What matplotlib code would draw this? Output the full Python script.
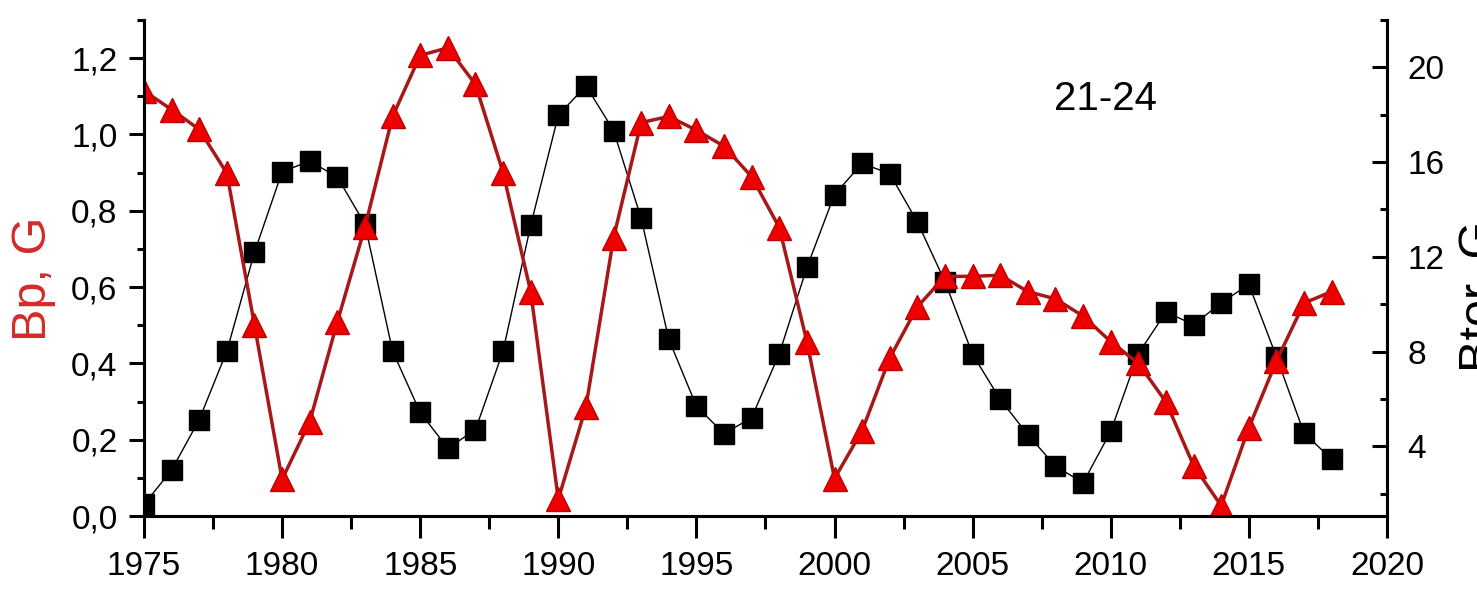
import numpy as np
import matplotlib
matplotlib.use("Agg")
import matplotlib.pyplot as plt
from matplotlib.ticker import MultipleLocator, FuncFormatter

plt.rcParams['font.family'] = ['Liberation Sans', 'DejaVu Sans']

# yearly values, cycles 21-24
years = list(range(1975, 2019))

bp = [1.114, 1.065, 1.013, 0.898, 0.500, 0.096, 0.247, 0.509, 0.757, 1.047,
      1.207, 1.227, 1.131, 0.900, 0.588, 0.044, 0.286, 0.729, 1.031, 1.047,
      1.011, 0.969, 0.889, 0.756, 0.457, 0.098, 0.224, 0.414, 0.548, 0.628,
      0.628, 0.631, 0.588, 0.569, 0.524, 0.457, 0.400, 0.299, 0.132, 0.027,
      0.231, 0.406, 0.558, 0.588]

btor = [1.55, 3.00, 5.13, 8.02, 12.19, 15.59, 16.04, 15.37, 13.37, 8.02,
        5.43, 3.92, 4.70, 8.02, 13.33, 17.97, 19.22, 17.33, 13.62, 8.52,
        5.70, 4.53, 5.21, 7.91, 11.55, 14.63, 15.94, 15.51, 13.47, 10.95,
        7.88, 5.98, 4.49, 3.17, 2.46, 4.63, 7.91, 9.67, 9.14, 10.05,
        10.84, 7.78, 4.56, 3.46]

fig = plt.figure(figsize=(14.77, 6.05), dpi=100)
ax1 = fig.add_axes([0.0975, 0.1471, 0.8415, 0.8200])
ax2 = ax1.twinx()

# Btor on the right axis, thin black line with squares
ax2.plot(years, btor, color="black", lw=1.0, marker="s", markersize=14.5,
         markerfacecolor="black", markeredgecolor="black")

# Bp on the left axis, drawn above the black series
ax1.plot(years, bp, color="#A81818", lw=2.5, marker="^", markersize=17.5,
         markerfacecolor="#EE0000", markeredgecolor="#C00000", markeredgewidth=1.0)
ax1.set_zorder(ax2.get_zorder() + 1)
ax1.patch.set_visible(False)

ax1.set_xlim(1975, 2020)
ax1.set_ylim(0, 1.3)
ax2.set_ylim(1.06, 22)

ax1.xaxis.set_major_locator(MultipleLocator(5))
ax1.xaxis.set_minor_locator(MultipleLocator(2.5))
ax1.yaxis.set_major_locator(MultipleLocator(0.2))
ax1.yaxis.set_minor_locator(MultipleLocator(0.1))
ax1.yaxis.set_major_formatter(FuncFormatter(lambda v, p: f"{v:.1f}".replace(".", ",")))
ax2.yaxis.set_major_locator(MultipleLocator(4))
ax2.yaxis.set_minor_locator(MultipleLocator(2))

for ax in (ax1, ax2):
    ax.spines["top"].set_visible(False)
    for s in ("left", "right", "bottom"):
        ax.spines[s].set_linewidth(2.2)

ax1.tick_params(axis="x", which="major", direction="out", length=16, width=2.2,
                labelsize=24, pad=9)
ax1.tick_params(axis="x", which="minor", direction="out", length=9, width=2.2)
ax1.tick_params(axis="y", which="major", direction="out", length=11, width=2.2,
                labelsize=24, pad=8)
ax1.tick_params(axis="y", which="minor", direction="out", length=5, width=2.2)
ax2.tick_params(axis="y", which="major", direction="in", length=11, width=2.2,
                labelsize=24, pad=15)
ax2.tick_params(axis="y", which="minor", direction="in", length=5, width=2.2)

# axis titles and cycle label
fig.text(34 / 1477, 1 - 279 / 605, "Bp, G", color="#D42A2A", fontsize=35,
         rotation=90, ha="center", va="center")
fig.text(1458 / 1477, 1 - 296 / 605, "Btor, G", color="black", fontsize=35,
         rotation=90, ha="left", va="center")
fig.text(1105 / 1477, 1 - 99 / 605, "21-24", color="black", fontsize=29,
         ha="center", va="center")

plt.savefig("out.png", dpi=100)
